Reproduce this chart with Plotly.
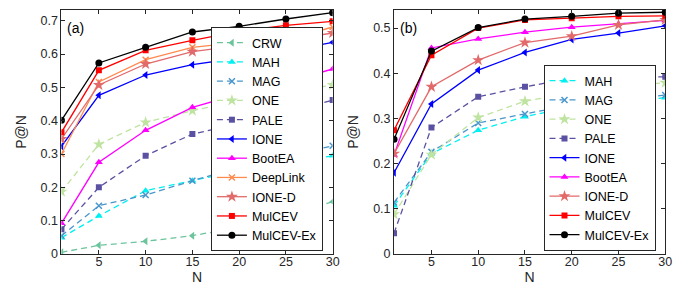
import plotly.graph_objects as go

N = [1, 5, 10, 15, 20, 25, 30]

# Panel (a)
a_CRW = [0.005, 0.026, 0.038, 0.055, 0.080, 0.115, 0.157]
a_MAH = [0.049, 0.114, 0.190, 0.220, 0.250, 0.270, 0.295]
a_MAG = [0.055, 0.145, 0.177, 0.220, 0.260, 0.290, 0.325]
a_ONE = [0.187, 0.329, 0.395, 0.430, 0.460, 0.485, 0.507]
a_PALE = [0.074, 0.200, 0.295, 0.360, 0.390, 0.420, 0.462]
a_IONE = [0.323, 0.476, 0.537, 0.568, 0.588, 0.608, 0.635]
a_BootEA = [0.092, 0.275, 0.371, 0.440, 0.480, 0.515, 0.555]
a_DeepLink = [0.300, 0.516, 0.583, 0.620, 0.635, 0.641, 0.681]
a_IONED = [0.345, 0.507, 0.570, 0.607, 0.625, 0.641, 0.663]
a_MulCEV = [0.365, 0.551, 0.611, 0.641, 0.668, 0.686, 0.698]
a_MulCEVEx = [0.401, 0.573, 0.620, 0.666, 0.683, 0.705, 0.724]

# Panel (b)
b_MAH = [0.107, 0.222, 0.274, 0.304, 0.325, 0.335, 0.346]
b_MAG = [0.114, 0.226, 0.290, 0.310, 0.330, 0.340, 0.352]
b_ONE = [0.088, 0.220, 0.302, 0.338, 0.357, 0.371, 0.379]
b_PALE = [0.046, 0.280, 0.348, 0.370, 0.389, 0.391, 0.392]
b_IONE = [0.180, 0.332, 0.407, 0.446, 0.475, 0.489, 0.505]
b_BootEA = [0.219, 0.456, 0.476, 0.491, 0.502, 0.509, 0.517]
b_IONED = [0.222, 0.370, 0.429, 0.468, 0.482, 0.507, 0.518]
b_MulCEV = [0.274, 0.440, 0.500, 0.518, 0.522, 0.526, 0.527]
b_MulCEVEx = [0.254, 0.449, 0.501, 0.520, 0.526, 0.533, 0.535]

x_ticks = [5, 10, 15, 20, 25, 30]
a_yticks = [0, 0.1, 0.2, 0.3, 0.4, 0.5, 0.6, 0.7]
a_yticklabels = ["0", "0.1", "0.2", "0.3", "0.4", "0.5", "0.6", "0.7"]
b_yticks = [0, 0.1, 0.2, 0.3, 0.4, 0.5]
b_yticklabels = ["0", "0.1", "0.2", "0.3", "0.4", "0.5"]

STYLE = {
    "CRW": dict(color="#6cc49c", symbol="triangle-left", dash="6px,4px", size=7),
    "MAH": dict(color="#00f0f0", symbol="triangle-up", dash="6px,4px", size=7),
    "MAG": dict(color="#4a96cc", symbol="x-thin-open", dash="6px,4px", size=6),
    "ONE": dict(color="#bfe3a0", symbol="star", dash="6px,4px", size=9),
    "PALE": dict(color="#5a51a2", symbol="square", dash="6px,4px", size=6),
    "IONE": dict(color="#0000ff", symbol="triangle-left", dash="solid", size=7),
    "BootEA": dict(color="#ff00ff", symbol="triangle-up", dash="solid", size=7),
    "DeepLink": dict(color="#ff8a50", symbol="x-thin-open", dash="solid", size=6),
    "IONE-D": dict(color="#e26a6a", symbol="star", dash="solid", size=9),
    "MulCEV": dict(color="#ff0000", symbol="square", dash="solid", size=6),
    "MulCEV-Ex": dict(color="#000000", symbol="circle", dash="solid", size=7),
}

series_a = [("CRW", a_CRW), ("MAH", a_MAH), ("MAG", a_MAG), ("ONE", a_ONE),
            ("PALE", a_PALE), ("IONE", a_IONE), ("BootEA", a_BootEA),
            ("DeepLink", a_DeepLink), ("IONE-D", a_IONED), ("MulCEV", a_MulCEV),
            ("MulCEV-Ex", a_MulCEVEx)]
series_b = [("MAH", b_MAH), ("MAG", b_MAG), ("ONE", b_ONE), ("PALE", b_PALE),
            ("IONE", b_IONE), ("BootEA", b_BootEA), ("IONE-D", b_IONED),
            ("MulCEV", b_MulCEV), ("MulCEV-Ex", b_MulCEVEx)]

fig = go.Figure()


def add_series(series, xa, ya, legend):
    for name, vals in series:
        s = STYLE[name]
        thin = s["symbol"].startswith("x-thin")
        fig.add_trace(go.Scatter(
            x=N, y=vals, name=name, mode="lines+markers",
            xaxis=xa, yaxis=ya, legend=legend,
            line=dict(color=s["color"], width=1.3, dash=s["dash"]),
            marker=dict(symbol=s["symbol"], size=s["size"], color=s["color"],
                        line=dict(color=s["color"], width=1.5 if thin else 0)),
        ))


add_series(series_a, "x", "y", "legend")
add_series(series_b, "x2", "y2", "legend2")

W, H = 689, 291
font = "Liberation Sans, Arial, sans-serif"
axis_common = dict(showline=True, linecolor="#262626", linewidth=1, mirror="ticks",
                   ticks="inside", ticklen=4, tickcolor="#262626", showgrid=False,
                   zeroline=False, tickfont=dict(family=font, size=12.5, color="#262626"))

fig.update_layout(
    width=W, height=H,
    margin=dict(l=0, r=0, t=2, b=45),
    paper_bgcolor="white", plot_bgcolor="white",
    font=dict(family=font, color="#262626"),
    showlegend=True,
    xaxis=dict(domain=[54 / W, 328 / W], range=[1, 30], tickvals=x_ticks, ticklabelstandoff=-4,
               title=dict(text="N", font=dict(size=14), standoff=2), anchor="y", **axis_common),
    yaxis=dict(domain=[0, 1], range=[0, 0.732], tickvals=a_yticks, ticktext=a_yticklabels,
               title=dict(text="P@N", font=dict(size=14), standoff=10), anchor="x", **axis_common),
    xaxis2=dict(domain=[390 / W, 664 / W], range=[1, 30], tickvals=x_ticks, ticklabelstandoff=-4,
                title=dict(text="N", font=dict(size=14), standoff=2), anchor="y2", **axis_common),
    yaxis2=dict(domain=[0, 1], range=[0, 0.540], tickvals=b_yticks, ticktext=b_yticklabels,
                title=dict(text="P@N", font=dict(size=14), standoff=11), anchor="x2", **axis_common),
    legend=dict(x=205 / W, y=0.012, xanchor="left", yanchor="bottom",
                bgcolor="white", bordercolor="#262626", borderwidth=1,
                font=dict(family=font, size=12.5, color="#000000"), itemwidth=30,
                tracegroupgap=0),
    legend2=dict(x=541 / W, y=0.012, xanchor="left", yanchor="bottom",
                 bgcolor="white", bordercolor="#262626", borderwidth=1,
                 font=dict(family=font, size=12.5, color="#000000"), itemwidth=30,
                 tracegroupgap=0),
    annotations=[
        dict(text="(a)", xref="paper", yref="paper", x=58 / W, y=(246 - 20) / 244,
             xanchor="left", yanchor="middle", showarrow=False,
             font=dict(family=font, size=14, color="#000000")),
        dict(text="(b)", xref="paper", yref="paper", x=394 / W, y=(246 - 20) / 244,
             xanchor="left", yanchor="middle", showarrow=False,
             font=dict(family=font, size=14, color="#000000")),
    ],
)

fig.write_html("out.html")
